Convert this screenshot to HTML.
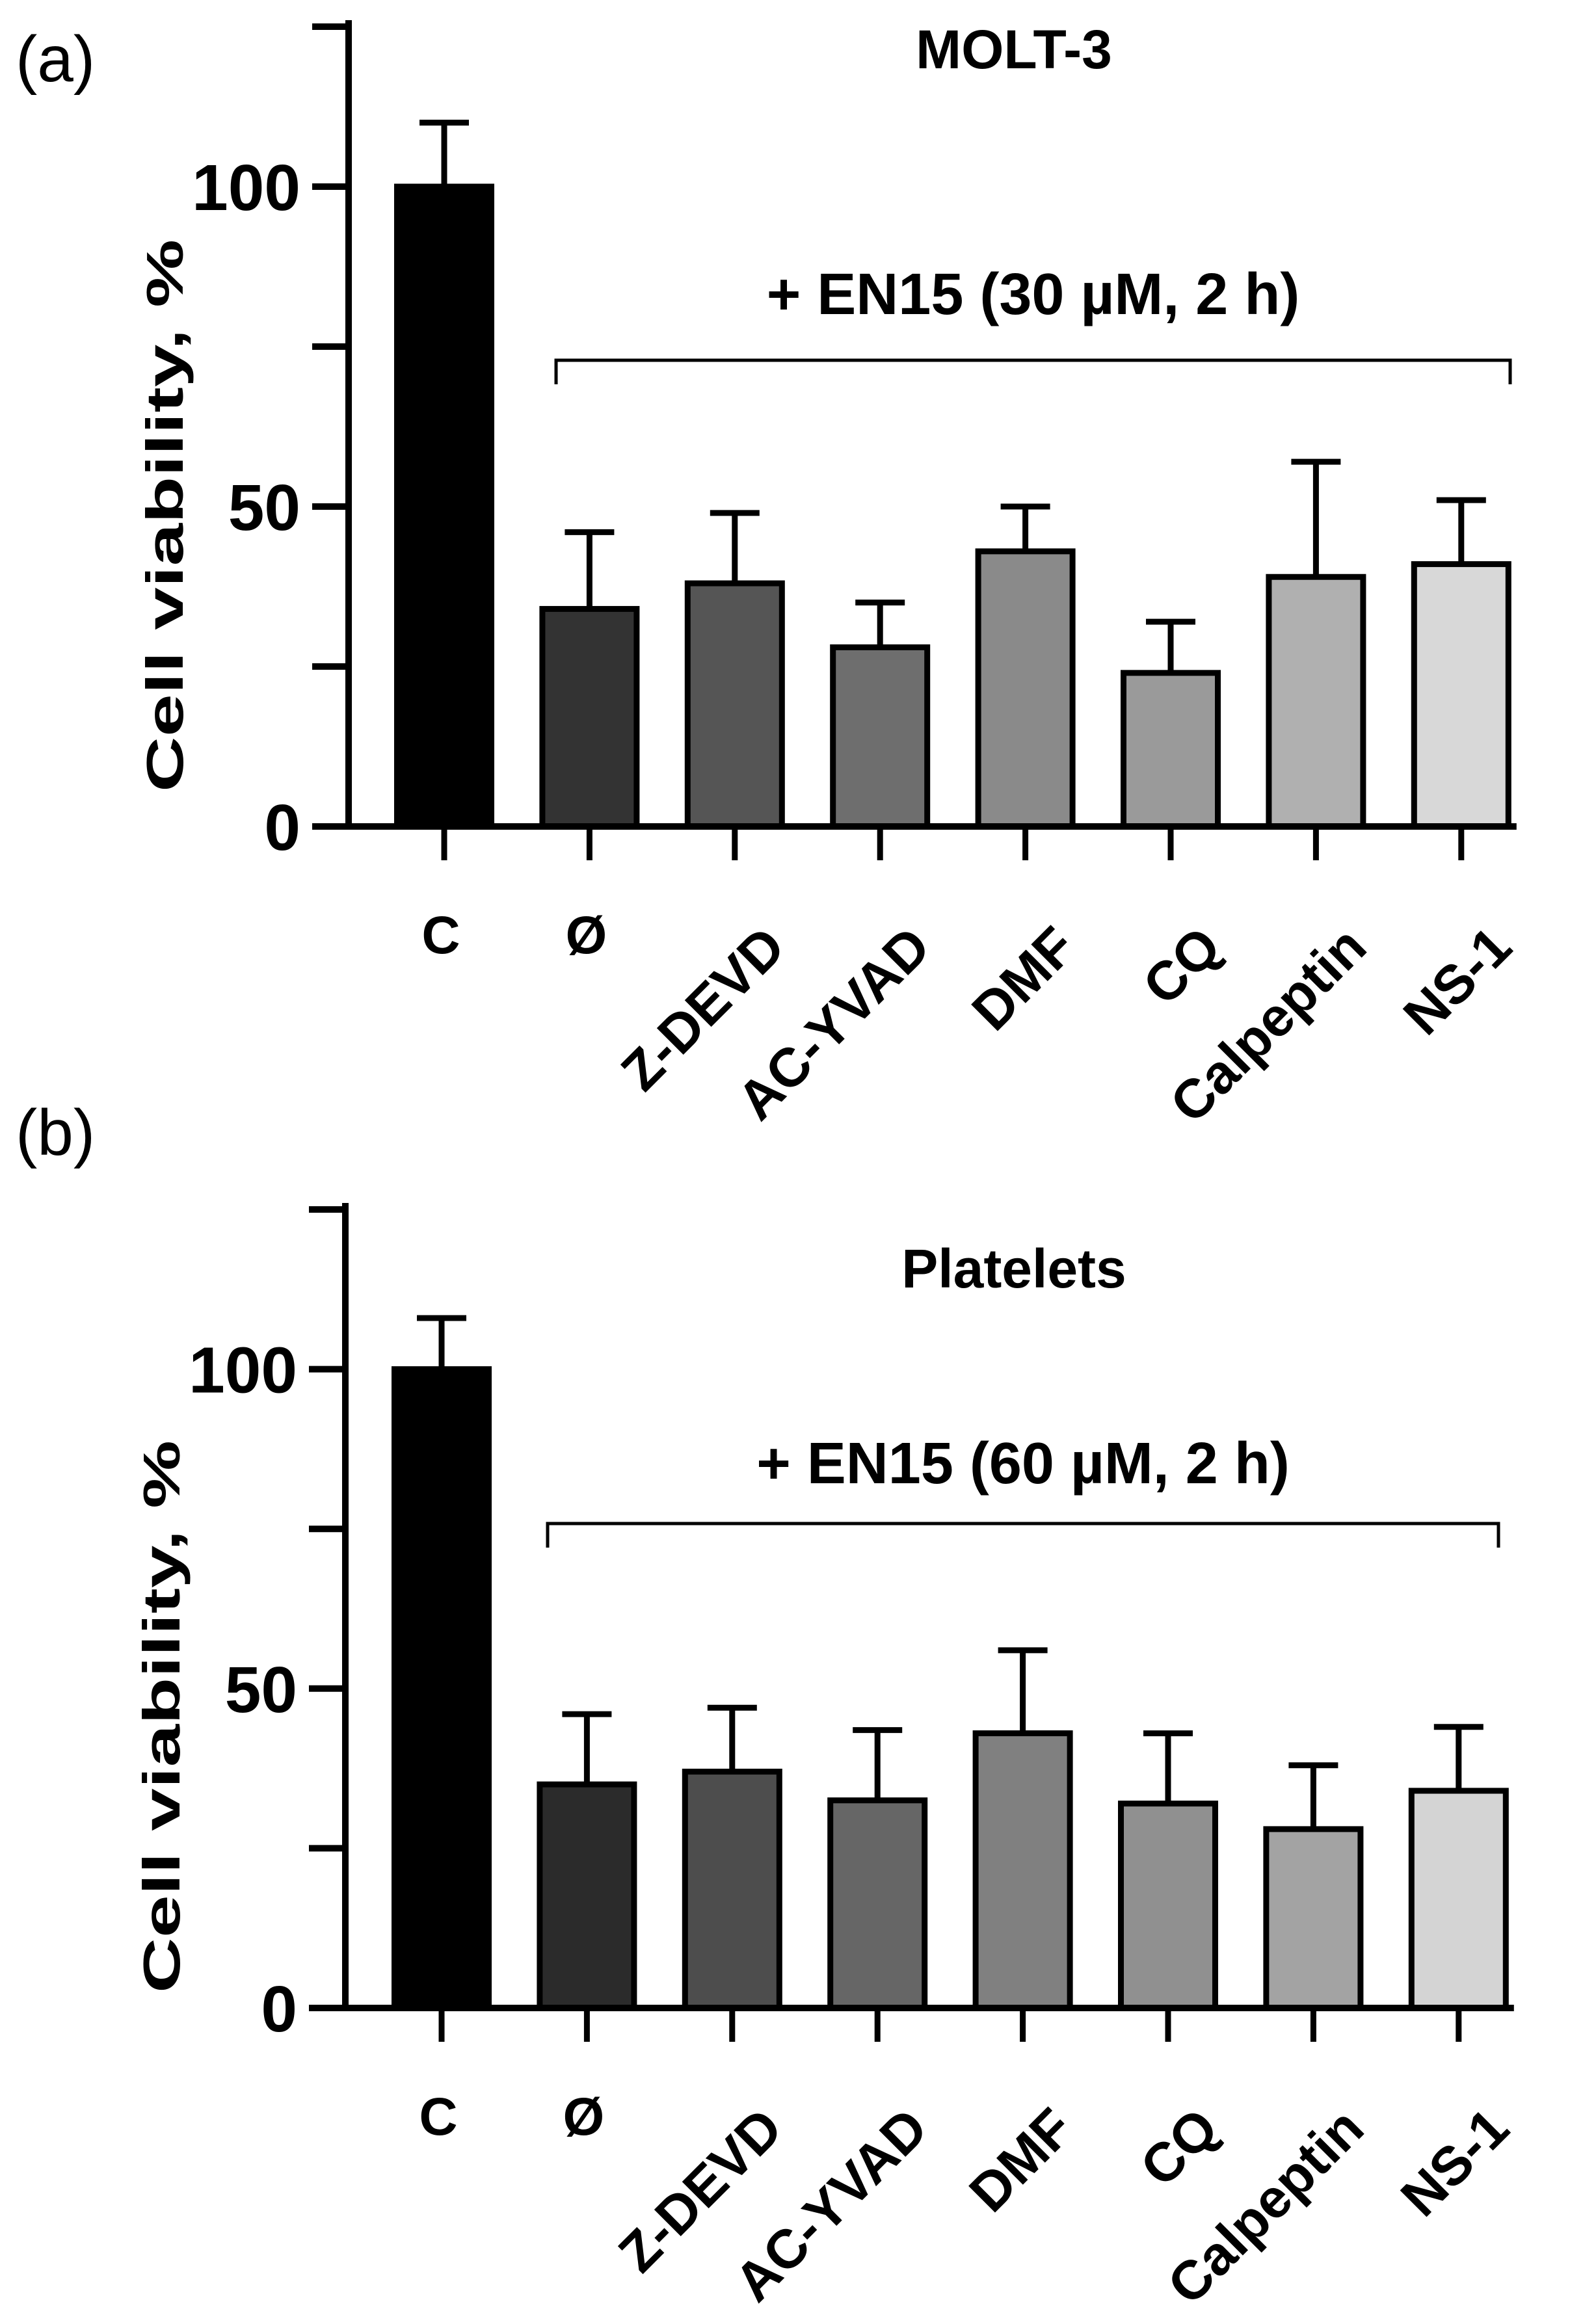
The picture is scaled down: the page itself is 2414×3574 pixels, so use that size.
<!DOCTYPE html>
<html><head><meta charset="utf-8"><style>
html,body{margin:0;padding:0;background:#fff}
svg{display:block}
text{font-family:"Liberation Sans",Arial,sans-serif}
</style></head><body>
<svg id="fig" width="2414" height="3574" viewBox="0 0 2414 3574" xmlns="http://www.w3.org/2000/svg"></svg>
<script>
const categories = ["C","Ø","Z-DEVD","AC-YVAD","DMF","CQ","Calpeptin","NS-1"];
const meansA = [100,34,38,28,43,24,39,41];
const errA = [110,46,49,35,50,32,57,51];
const meansB = [100,35,37,32.5,43,32,28,34];
const errB = [108,46,47,43.5,56,43,38,44];
const colorsA = ["#000","#333","#555","#6e6e6e","#8a8a8a","#9a9a9a","#b0b0b0","#d8d8d8"];
const colorsB = ["#000","#2b2b2b","#4d4d4d","#666","#808080","#909090","#a3a3a3","#d4d4d4"];
const yTicks = [0,25,50,75,100,125];
const yLabels = ["0","","50","","100",""];

const NS="http://www.w3.org/2000/svg";
const svg=document.getElementById('fig');
function mk(tag,attrs,parent){const e=document.createElementNS(NS,tag);for(const k in attrs)e.setAttribute(k,attrs[k]);(parent||svg).appendChild(e);return e;}

function panel(p){
  const g=mk('g',{});
  
  
  const y=v=>p.y0-(v/125)*(p.y0-p.yTop);
  const x=i=>p.x0+i*223.4;
  const L=mk('text',{x:24,y:p.letterY,'font-size':100,fill:'#000'},g);L.textContent=p.letter;
  
  const T=mk('text',{x:p.titleX,y:p.titleY,'font-size':p.titleSize,'font-weight':'bold','text-anchor':'middle'},g);T.textContent=p.title;
  
  const ax=mk('line',{x1:p.ax,x2:p.ax,y1:p.yTop-10,y2:p.y0+5,stroke:'#000','stroke-width':10},g);
  
  yTicks.forEach((t,i)=>{
    const tk=mk('line',{x1:p.ax-56,x2:p.ax,y1:y(t),y2:y(t),stroke:'#000','stroke-width':10},g);
    
    if(yLabels[i]){const tl=mk('text',{x:p.ax-74,y:y(t)+36,'font-size':100,'font-weight':'bold','text-anchor':'end'},g);tl.textContent=yLabels[i];
    }
  });
  const yt=mk('text',{x:0,y:0,'font-size':80,'font-weight':'bold','text-anchor':'middle',textLength:850,lengthAdjust:'spacingAndGlyphs',transform:`translate(${p.ax-255},${p.ytY}) rotate(-90)`},g);
  yt.textContent='Cell viability, %';
  
  categories.forEach((c,i)=>{
    const cx=x(i),w=145;
    const eb=mk('line',{x1:cx,x2:cx,y1:y(p.err[i]),y2:y(p.means[i]),stroke:'#000','stroke-width':9},g);
    
    const ec=mk('line',{x1:cx-38,x2:cx+38,y1:y(p.err[i]),y2:y(p.err[i]),stroke:'#000','stroke-width':9},g);
    
    const b=mk('rect',{x:cx-w/2,y:y(p.means[i]),width:w,height:p.y0-y(p.means[i]),fill:p.colors[i],stroke:'#000','stroke-width':9},g);
    
    const tk=mk('line',{x1:cx,x2:cx,y1:p.y0,y2:p.y0+52,stroke:'#000','stroke-width':9},g);
    
    let lab;
    if(i<2){lab=mk('text',{x:cx-5,y:p.y0+195,'font-size':82,'font-weight':'bold','text-anchor':'middle'},g);}
    else{lab=mk('text',{x:0,y:0,'font-size':84,'font-weight':'bold','text-anchor':'end',transform:`translate(${cx+82},${p.y0+190}) rotate(-45)`},g);}
    lab.textContent=c;
    
  });
  const xa=mk('line',{x1:p.ax-56,x2:x(7)+85,y1:p.y0,y2:p.y0,stroke:'#000','stroke-width':10},g);
  
  const br=mk('path',{d:`M${p.bx1},${p.by+37} V${p.by} H${p.bx2} V${p.by+37}`,fill:'none',stroke:'#000','stroke-width':5},g);
  
  const bt=mk('text',{x:(p.bx1+p.bx2)/2,y:p.bty,'font-size':90,'font-weight':'bold','text-anchor':'middle'},g);
  bt.textContent=p.bracket;
  
}
panel({name:'panel-a',letter:'(a)',letterY:125,title:'MOLT-3',titleSize:84,titleX:1559,titleY:105,ax:536,y0:1271,yTop:41,x0:683,ytY:793,
  means:meansA,err:errA,colors:colorsA,bx1:855,bx2:2322,by:554,bty:483,bracket:'+ EN15 (30 µM, 2 h)'});
panel({name:'panel-b',letter:'(b)',letterY:1776,title:'Platelets',titleSize:84,titleX:1559,titleY:1980,ax:531,y0:3088,yTop:1860,x0:679,ytY:2640,
  means:meansB,err:errB,colors:colorsB,bx1:842,bx2:2304,by:2343,bty:2281,bracket:'+ EN15 (60 µM, 2 h)'});
</script>
</body></html>
